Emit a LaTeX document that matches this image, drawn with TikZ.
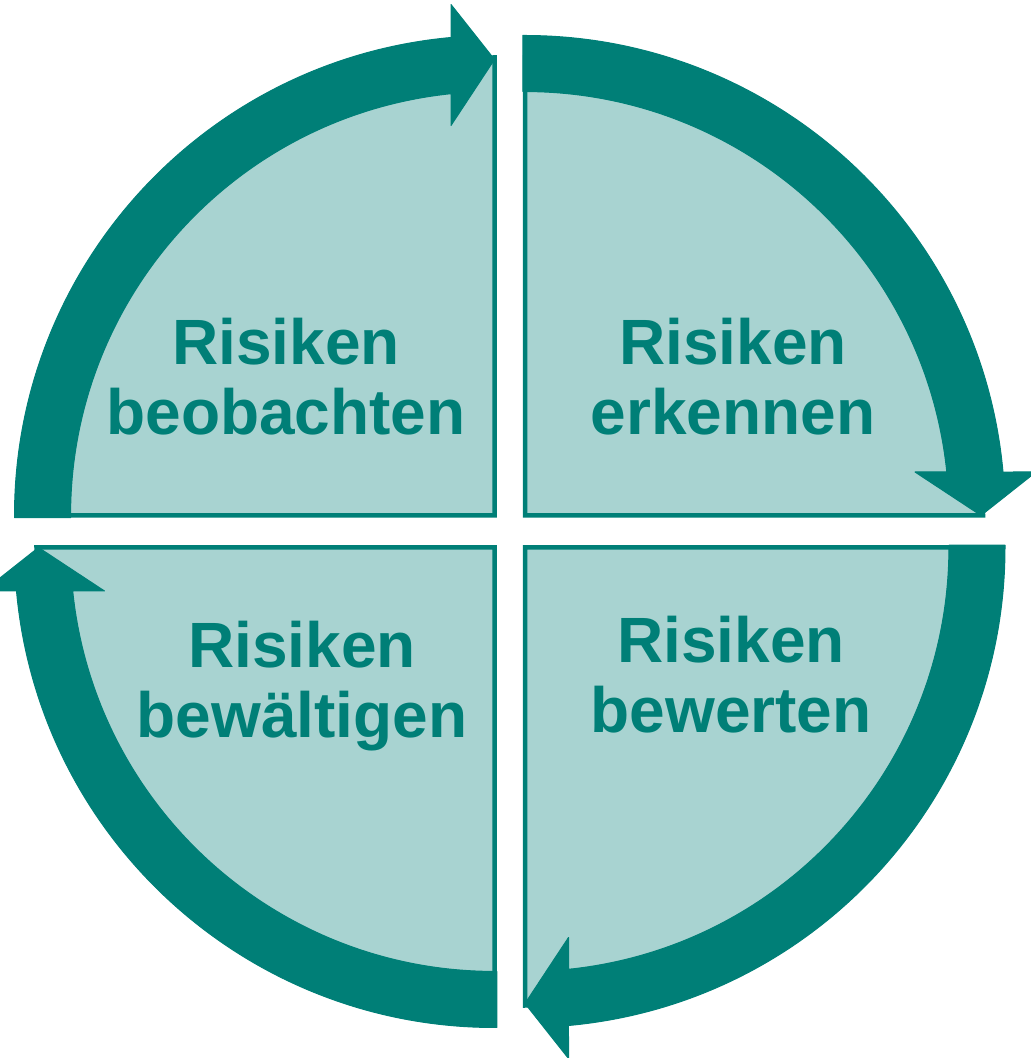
\documentclass[tikz,border=0pt]{standalone}
\usepackage{fontspec}
\setmainfont{Liberation Sans}
\definecolor{dk}{HTML}{007F77}
\definecolor{lt}{HTML}{A8D3D1}
\newcommand\riskquadrant[2]{%
  \begin{scope}[shift={#1}, rotate=#2]
    \path[quad] (0,0) -- (-458,0) arc[start angle=180,end angle=90,radius=458] -- cycle;
    \path[band] (-480,-2.25) -- (-480,0) arc[start angle=180,end angle=95.2,radius=480]
      -- (-43.5,511) -- (0,456) -- (-43.5,390) -- (-43.5,421.8)
      arc[start angle=95.9,end angle=180,radius=424] -- (-424,-2.25) -- cycle;
  \end{scope}}
\begin{document}
\begin{tikzpicture}[x=1pt,y=1pt,
  quad/.style={fill=lt, draw=dk, line width=4.5},
  band/.style={fill=dk, draw=dk, line width=1, line join=round},
  lbl/.style={text=dk, font=\fontsize{64}{70}\selectfont\bfseries, align=center, anchor=base, inner sep=0}]
\useasboundingbox (0,0) rectangle (1031,1058);
\riskquadrant{(494.5,542.5)}{0}
\riskquadrant{(525,542.5)}{-90}
\riskquadrant{(525,510.5)}{-180}
\riskquadrant{(494.5,510.5)}{-270}
\node[lbl] (tl) at (286,623) {Risiken\\beobachten};
\node[lbl] (tr) at (733,623) {Risiken\\erkennen};
\node[lbl] (bl) at (302,320) {Risiken\\bewältigen};
\node[lbl] (br) at (731,325) {Risiken\\bewerten};
\end{tikzpicture}
\end{document}
